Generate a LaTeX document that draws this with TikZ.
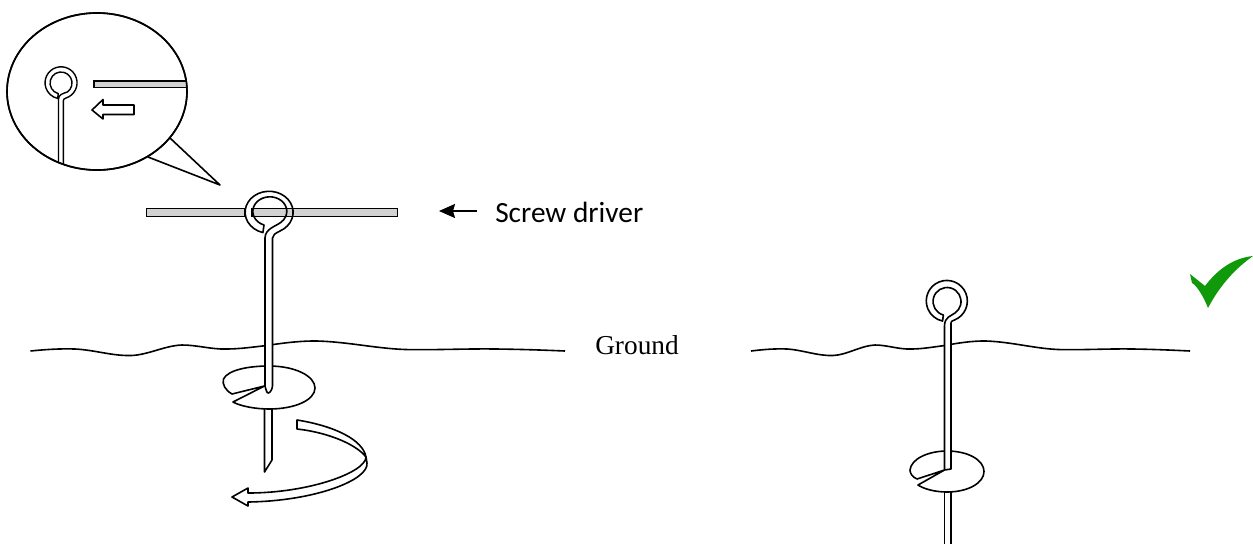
\documentclass[tikz,border=0pt]{standalone}
\usepackage{fontspec}
\setmainfont{Liberation Serif}
\newfontfamily\calib{Carlito}
\usetikzlibrary{arrows.meta}
\definecolor{bargray}{HTML}{D2D2D2}
\definecolor{okgreen}{HTML}{109A0A}
\tikzset{
  ink/.style={draw=black,line width=1.2pt,line join=round},
  thin ink/.style={draw=black,line width=1.05pt,line join=round},
  bar/.style={draw=black,line width=1.35pt,fill=bargray},
  lab/.style={inner sep=0pt,anchor=center}
}
\begin{document}
\begin{tikzpicture}[x=.75pt,y=-.75pt]
\useasboundingbox (0,0) rectangle (1253,544);

% ground, left
\draw[ink] (30.5,351) .. controls (45,349.5) and (60,348.5) .. (75,349)
  .. controls (95,350) and (112,356) .. (131,355.5)
  .. controls (148,355) and (165,345.5) .. (182,345)
  .. controls (197,345) and (212,349.5) .. (226,349)
  .. controls (240,349) and (253,347) .. (266,345.6)
  .. controls (283,343) and (300,340.8) .. (317,341)
  .. controls (350,342) and (378,349) .. (409,349.6)
  .. controls (438,350) and (467,348.6) .. (496,349)
  .. controls (520,349.3) and (542,350) .. (565,351);
\node[lab,font=\fontsize{20.5}{22}\selectfont] (ground) at (637,345) {Ground};
% ground, right
\draw[ink] (751,351) .. controls (763,349.5) and (775,348.5) .. (787,349)
  .. controls (803,350) and (817,356) .. (833,355.5)
  .. controls (847,355) and (861,345.5) .. (875,345)
  .. controls (887,345) and (899,349.5) .. (911,349)
  .. controls (922,349) and (933,347) .. (944,345.6)
  .. controls (958,343) and (972,340.8) .. (986,341)
  .. controls (1013,342) and (1036,349) .. (1061,349.6)
  .. controls (1085,350) and (1109,348.6) .. (1133,349)
  .. controls (1152,349.3) and (1170,350) .. (1190,351);

% callout bubble
\draw[ink,fill=white] (170,138) -- (220,185) -- (148,157);
\draw[ink,fill=white] (97,91.5) ellipse [x radius=67.5pt,y radius=58.9pt];
\begin{scope}
  \clip (97,91.5) ellipse [x radius=67.5pt,y radius=58.9pt];
  \draw[bar] (94,81) rectangle (200,87.5);
  \draw[thin ink] (63.3,170) -- (63.3,101) .. controls (63.3,99.5) and (64,98.7) .. (66,98)
    arc[start angle=-72,end angle=258,radius=12pt] -- (58.2,93.6)
    arc[start angle=255,end angle=-55,radius=8.25pt]
    .. controls (63,93.5) and (58.5,94.5) .. (58.5,99) -- (58.5,170);
\end{scope}
\draw[ink] (97,91.5) ellipse [x radius=67.5pt,y radius=58.9pt];
\draw[ink,fill=white] (92,110) -- (103,99.5) -- (103,105) -- (134,105) -- (134,114.5) -- (103,114.5) -- (103,119) -- cycle;

% screw driver, left of the eye and through it
\draw[bar] (146.5,208.5) rectangle (245,216.5);
\draw[bar] (252,208.5) rectangle (397.5,216.5);
\coordinate (sdtail) at (477,211);
\coordinate (sdtip) at (439,211);
\draw[line width=1.3pt,-{Stealth[length=12pt,width=10.5pt,inset=1.5pt]}] (sdtail) -- (sdtip);
\node[lab,anchor=west,font=\calib\fontsize{22}{24}\selectfont] (driver) at (495,212) {Screw driver};

% left pin: point below the disc
\draw[ink,fill=white] (264.5,400) -- (264.5,472) -- (272,460) -- (272,400);
% left disc
\draw[ink,fill=white] (232,394) .. controls (225,390) and (222,384) .. (223.5,379)
  .. controls (228,370) and (248,366) .. (269,366)
  .. controls (295,366) and (315,376) .. (315,388)
  .. controls (315,400) and (295,409) .. (269,409)
  .. controls (255,409) and (240,406) .. (233,402)
  -- (264.5,386) -- cycle;
% left pin: shaft and eye
\fill[white] (265,240) rectangle (272.5,388);
\draw[ink] (272.5,386) -- (272.5,238) .. controls (272.7,235) and (275,233.5) .. (280,231)
  arc[start angle=-63,end angle=255,x radius=18pt,y radius=15.75pt]
  -- (264,225)
  arc[start angle=250,end angle=-50,x radius=12.75pt,y radius=10.9pt]
  .. controls (275,226.5) and (265.2,229) .. (265,238)
  -- (265,386) .. controls (266,390) and (267,393) .. (268,393)
  .. controls (270,393) and (272,390) .. (272.5,386);

% rotation arrow
\draw[ink,fill=white] (248,493) .. controls (310,493) and (366,472) .. (366,457)
  -- (367,463)
  .. controls (369,480) and (315,501) .. (248,502)
  -- (248,506) -- (232,497) -- (248,488) -- cycle;
\draw[ink,fill=white] (297,420) .. controls (335,426) and (363,440) .. (366,457)
  .. controls (355,443) and (325,432) .. (297,429) -- cycle;

% right pin: lower part
\draw[ink] (944.5,490) -- (944.5,544);
\draw[ink] (951,490) -- (951,544);
% right disc
\draw[ink,fill=white] (917,479) .. controls (912,477) and (910,473) .. (910,470)
  .. controls (911,459) and (928,451) .. (947,451)
  .. controls (968,451) and (984,460) .. (984,471.5)
  .. controls (984,483) and (968,492) .. (947,492)
  .. controls (935,492) and (924,489) .. (918,485)
  -- (944.5,470) -- cycle;
% right pin: shaft and eye
\fill[white] (944.5,324) rectangle (951,469);
\draw[ink] (944.5,470) -- (951,469) -- (951,323)
  .. controls (951,321.5) and (951.5,321) .. (954.5,320)
  arc[start angle=-68,end angle=258,radius=15.4pt]
  -- (943.4,315)
  arc[start angle=255,end angle=-55,radius=10.5pt]
  .. controls (951,316) and (944.5,317) .. (944.5,326) -- cycle;

% check mark
\fill[okgreen] (1190,274) -- (1205,286)
  .. controls (1217,270) and (1233,258) .. (1253,256)
  .. controls (1236,268) and (1220,285) .. (1208,308)
  .. controls (1203,295) and (1196,285) .. (1192,283) -- cycle;
\end{tikzpicture}
\end{document}
